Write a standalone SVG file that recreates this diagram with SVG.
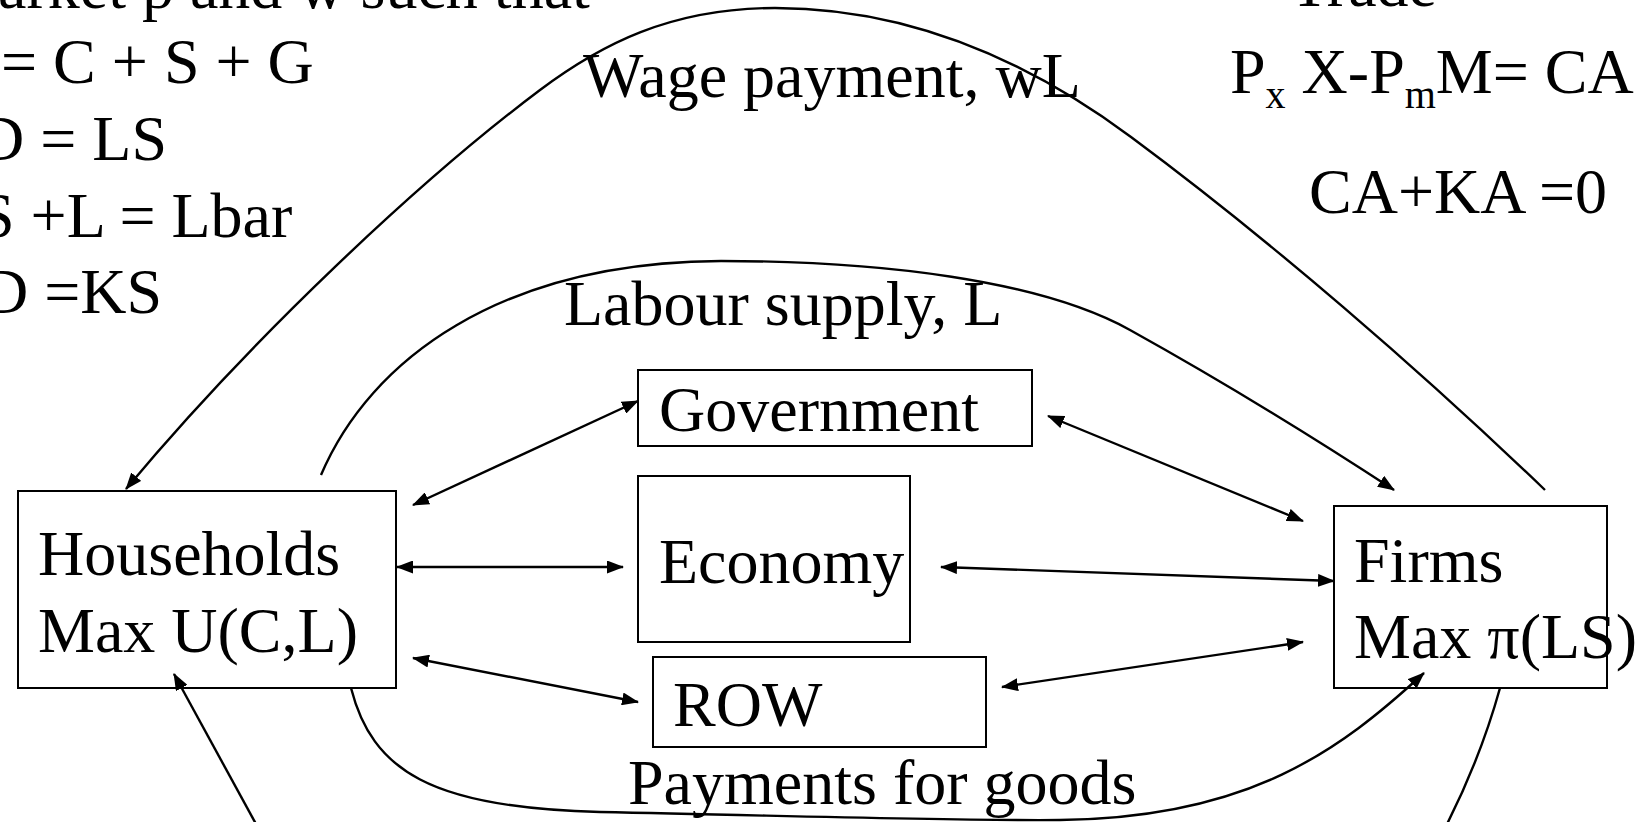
<svg xmlns="http://www.w3.org/2000/svg" width="1652" height="822" viewBox="0 0 1652 822">
<style>
  text { font-family: "Liberation Serif", "Times New Roman", serif; font-size: 64px; fill: #000; }
  .box { fill: #fff; stroke: #000; stroke-width: 2; }
  .ln { fill: none; stroke: #000; stroke-width: 2.4; }
  .a2 { marker-start: url(#ah); marker-end: url(#ah); }
  .a1 { marker-end: url(#ah); }
  .sub { font-size: 40px; }
</style>
<defs>
  <marker id="ah" viewBox="0 0 17 13" refX="16" refY="6.5" markerWidth="17" markerHeight="13" markerUnits="userSpaceOnUse" orient="auto-start-reverse">
    <path d="M0,0 L17,6.5 L0,13 z" fill="#000"/>
  </marker>
</defs>
<rect width="1652" height="822" fill="#fff"/>

<g id="equations-left">
  <text x="-2" y="8">arket p and w such that</text>
  <text x="1" y="83">= C + S + G</text>
  <text x="-22" y="160">D = LS</text>
  <text x="-21" y="237">S +L = Lbar</text>
  <text x="-18" y="313">D =KS</text>
</g>

<g id="trade">
  <text x="1290" y="6">Trade</text>
  <text x="1230" y="93">P<tspan class="sub" dy="15">x</tspan><tspan dy="-15"> X-P</tspan><tspan class="sub" dy="15">m</tspan><tspan dy="-15">M= CA</tspan></text>
  <text x="1309" y="213">CA+KA =0</text>
</g>

<g id="households">
  <rect class="box" x="18" y="491" width="378" height="197"/>
  <text x="38" y="575">Households</text>
  <text x="38" y="652">Max U(C,L)</text>
</g>

<g id="government">
  <rect class="box" x="638" y="370" width="394" height="76"/>
  <text x="659" y="431">Government</text>
</g>

<g id="economy">
  <rect class="box" x="638" y="476" width="272" height="166"/>
  <text x="659" y="583">Economy</text>
</g>

<g id="row">
  <rect class="box" x="653" y="657" width="333" height="90"/>
  <text x="673" y="726">ROW</text>
</g>

<g id="firms">
  <rect class="box" x="1334" y="506" width="273" height="182"/>
  <text x="1354" y="582">Firms</text>
  <text x="1354" y="658">Max π(LS)</text>
</g>

<g id="connectors">
  <path id="wage" class="ln a1" d="M1545,490 C1420,370 1270,240 1131,137 C1030,62 910,8 775,8 C670,8 600,45 540,90 C420,180 250,340 126,489"/>
  <path id="labour" class="ln a1" d="M321,475 C370,360 500,262 721,261 C880,261 1040,280 1130,330 C1220,380 1310,435 1394,490"/>
  <path id="payments" class="ln a1" d="M351,688 C372,770 430,808 600,812 C800,816 950,821 1060,820 C1250,818 1340,750 1424,673"/>
  <path id="goods-in" class="ln a1" d="M262,835 L174,674"/>
  <path id="firms-out" class="ln" d="M1500,688 Q1480,760 1444,830"/>
  <path class="ln a2" d="M413,505 L638,401"/>
  <path class="ln a2" d="M397,567 L623,567"/>
  <path class="ln a2" d="M413,658 L638,702"/>
  <path class="ln a2" d="M1048,416 L1303,521"/>
  <path class="ln a2" d="M941,567 L1334,581"/>
  <path class="ln a2" d="M1002,687 L1303,642"/>
  <text x="564" y="325">Labour supply, L</text>
  <text x="583" y="97">Wage payment, wL</text>
  <text x="628" y="804">Payments for goods</text>
</g>
</svg>
